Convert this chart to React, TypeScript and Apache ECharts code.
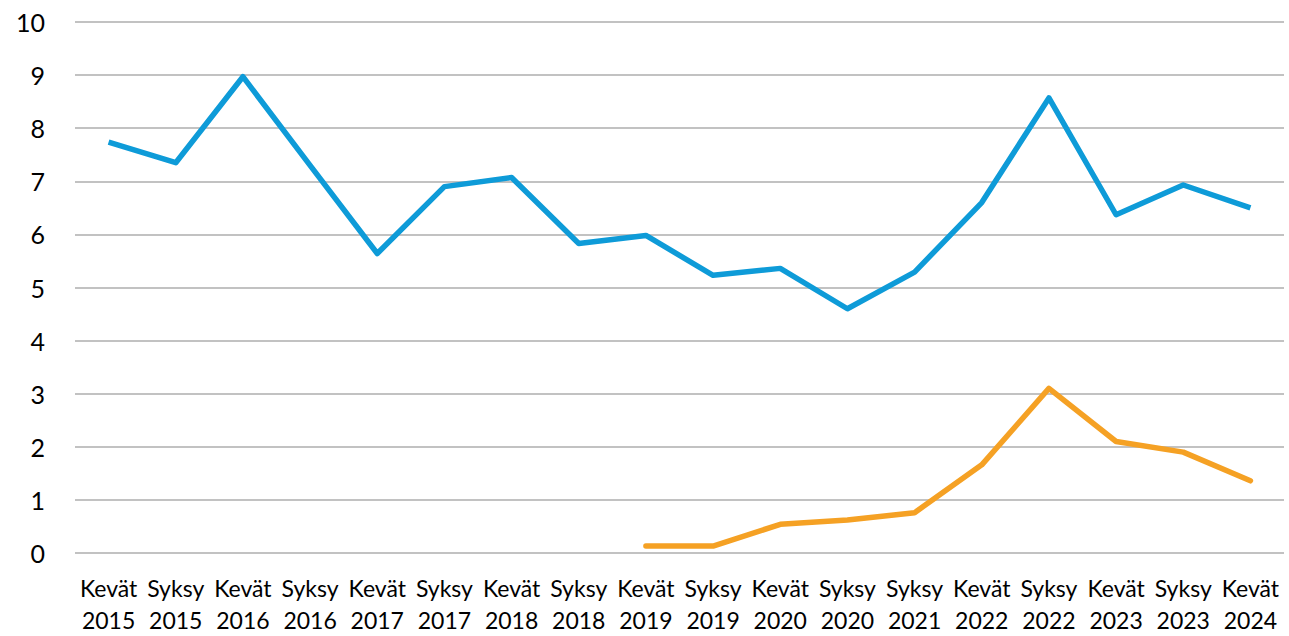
import React, { useEffect, useRef } from "react";
import * as echarts from "echarts";

const categories = [
  "Kevät\n2015", "Syksy\n2015", "Kevät\n2016", "Syksy\n2016", "Kevät\n2017", "Syksy\n2017",
  "Kevät\n2018", "Syksy\n2018", "Kevät\n2019", "Syksy\n2019", "Kevät\n2020", "Syksy\n2020",
  "Syksy\n2021", "Kevät\n2022", "Syksy\n2022", "Kevät\n2023", "Syksy\n2023", "Kevät\n2024",
];

const blueValues = [
  7.74, 7.35, 8.97, 7.3, 5.64, 6.9, 7.07, 5.83, 5.98, 5.23, 5.36, 4.6, 5.29, 6.6, 8.57, 6.37, 6.93, 6.5,
];

const orangeValues = [
  null, null, null, null, null, null, null, null, 0.13, 0.13, 0.54, 0.62, 0.76, 1.66, 3.1, 2.1, 1.9, 1.36,
];

const yTicks = { min: 0, max: 10, interval: 1 };

export default function App() {
  const ref = useRef<HTMLDivElement>(null);
  useEffect(() => {
    if (!ref.current) return;
    const chart = echarts.init(ref.current, undefined, { renderer: "svg" });
    chart.setOption({
      animation: false,
      backgroundColor: "#ffffff",
      grid: { left: 75, right: 5, top: 22, bottom: 73, containLabel: false },
      xAxis: {
        type: "category",
        data: categories,
        boundaryGap: true,
        axisLine: { show: false },
        axisTick: { show: false },
        axisLabel: {
          interval: 0,
          color: "#000000",
          fontFamily: "Lato, 'Open Sans', sans-serif",
          fontSize: 23,
          lineHeight: 32,
          margin: 19,
        },
      },
      yAxis: {
        type: "value",
        min: yTicks.min,
        max: yTicks.max,
        interval: yTicks.interval,
        axisLine: { show: false },
        axisTick: { show: false },
        splitLine: { lineStyle: { color: "#c2c2c2", width: 1.8 } },
        axisLabel: {
          color: "#000000",
          fontFamily: "Lato, 'Open Sans', sans-serif",
          fontSize: 25,
          margin: 30,
        },
      },
      series: [
        {
          type: "line",
          data: blueValues,
          symbol: "none",
          lineStyle: { color: "#0E9BD8", width: 5.5, join: "round" },
          itemStyle: { color: "#0E9BD8" },
        },
        {
          type: "line",
          data: orangeValues,
          symbol: "none",
          connectNulls: false,
          lineStyle: { color: "#F5A124", width: 5.5, join: "round", cap: "round" },
          itemStyle: { color: "#F5A124" },
        },
      ],
    });
    return () => chart.dispose();
  }, []);
  return <div ref={ref} style={{ width: 1289, height: 636, position: "absolute", left: 0, top: 0 }} />;
}
